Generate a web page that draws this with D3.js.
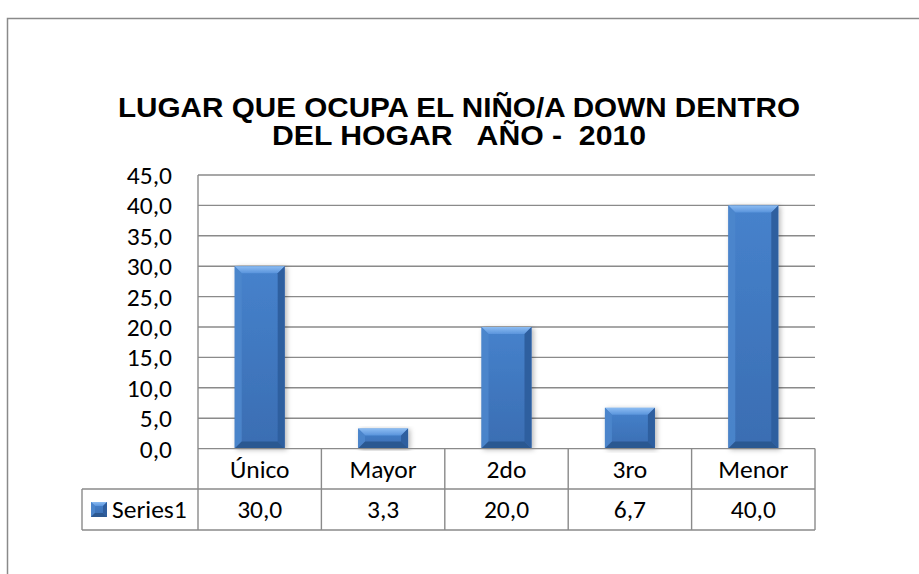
<!DOCTYPE html>
<html>
<head>
<meta charset="utf-8">
<script src="https://cdn.jsdelivr.net/npm/d3@7"></script>
<style>
  html, body { margin: 0; padding: 0; background: #ffffff; }
  svg { display: block; }
</style>
</head>
<body>
<svg id="chart" width="919" height="574"></svg>
<script>
// ---- data ----
const categories = ["Único", "Mayor", "2do", "3ro", "Menor"];
const values = [30.0, 3.3, 20.0, 6.7, 40.0];
const seriesName = "Series1";
const yTicks = [0, 5, 10, 15, 20, 25, 30, 35, 40, 45];
const titleLines = ["LUGAR QUE OCUPA EL NIÑO/A DOWN DENTRO", "DEL HOGAR   AÑO -  2010"];

// ---- layout ----
const plotLeft = 198, plotRight = 815, plotTop = 175, plotBottom = 448.6;
const row1Bottom = 489, row2Bottom = 530, legendLeft = 82;
const gridColor = "#8a8a8a";
const labelFont = "Carlito, Lato, 'Open Sans', sans-serif";
const labelSize = 25.5;

const locale = d3.formatLocale({decimal: ",", thousands: ".", grouping: [3], currency: ["", ""]});
const fmt = locale.format(".1f");

const svg = d3.select("#chart");

const defs = svg.append("defs");
const bodyGrad = defs.append("linearGradient").attr("id", "bodyGrad")
  .attr("x1", 0).attr("y1", 0).attr("x2", 0).attr("y2", 1);
bodyGrad.append("stop").attr("offset", "0%").attr("stop-color", "#4682cc");
bodyGrad.append("stop").attr("offset", "100%").attr("stop-color", "#3a6db2");
const topGrad = defs.append("linearGradient").attr("id", "topGrad")
  .attr("x1", 0).attr("y1", 0).attr("x2", 0).attr("y2", 1);
topGrad.append("stop").attr("offset", "0%").attr("stop-color", "#8cbcf2");
topGrad.append("stop").attr("offset", "100%").attr("stop-color", "#5a94dc");
const shadow = defs.append("filter").attr("id", "shadow")
  .attr("x", "-30%").attr("y", "-10%").attr("width", "160%").attr("height", "120%");
shadow.append("feDropShadow").attr("dx", 2).attr("dy", 1).attr("stdDeviation", 2.5)
  .attr("flood-color", "#000").attr("flood-opacity", 0.28);

// outer frame (extends past right/bottom edges)
svg.append("rect")
  .attr("x", 7.5).attr("y", 18.5).attr("width", 1000).attr("height", 1000)
  .attr("fill", "none").attr("stroke", "#8a8a8a").attr("stroke-width", 1.5);

// title
const titleWidths = [682, 374];
titleLines.forEach((t, i) => {
  svg.append("text")
    .attr("x", 459).attr("y", 117 + i * 28)
    .attr("text-anchor", "middle")
    .attr("font-family", "'Liberation Sans', Arial, sans-serif")
    .attr("font-weight", "bold").attr("font-size", 28)
    .attr("fill", "#000")
    .attr("textLength", titleWidths[i]).attr("lengthAdjust", "spacingAndGlyphs")
    .style("white-space", "pre")
    .text(t);
});

// scales
const x = d3.scaleBand().domain(categories).range([plotLeft, plotRight])
  .paddingInner(0.595).paddingOuter(0.2975);
const xCol = d3.scaleBand().domain(categories).range([plotLeft, plotRight]);
const y = d3.scaleLinear().domain([0, 45]).range([plotBottom, plotTop]);

// gridlines
svg.append("g").selectAll("line").data(yTicks.filter(d => d > 0)).join("line")
  .attr("x1", plotLeft).attr("x2", plotRight)
  .attr("y1", d => y(d)).attr("y2", d => y(d))
  .attr("stroke", gridColor).attr("stroke-width", 1.4);

// y tick labels
svg.append("g").selectAll("text").data(yTicks).join("text")
  .attr("x", 172).attr("y", d => y(d)).attr("dy", "0.35em")
  .attr("text-anchor", "end")
  .attr("font-family", labelFont).attr("font-size", labelSize).attr("fill", "#000")
  .text(d => fmt(d));

// bars with bevel
function bevelBar(g, bx, by, bw, bh, b) {
  b = Math.min(b, bh / 2, bw / 2);
  g.append("rect").attr("x", bx).attr("y", by).attr("width", bw).attr("height", bh)
    .attr("fill", "url(#bodyGrad)");
  const pts = a => a.map(p => p.join(",")).join(" ");
  g.append("polygon").attr("points", pts([[bx, by], [bx + bw, by], [bx + bw - b, by + b], [bx + b, by + b]]))
    .attr("fill", "url(#topGrad)");
  g.append("polygon").attr("points", pts([[bx, by], [bx + b, by + b], [bx + b, by + bh - b], [bx, by + bh]]))
    .attr("fill", "#4d86cc").attr("opacity", 0.9);
  g.append("polygon").attr("points", pts([[bx + bw, by], [bx + bw, by + bh], [bx + bw - b, by + bh - b], [bx + bw - b, by + b]]))
    .attr("fill", "#2f5e9f");
  g.append("polygon").attr("points", pts([[bx, by + bh], [bx + b, by + bh - b], [bx + bw - b, by + bh - b], [bx + bw, by + bh]]))
    .attr("fill", "#2c5891");
}

const bars = svg.append("g");
categories.forEach((c, i) => {
  const g = bars.append("g").attr("filter", "url(#shadow)");
  const bx = x(c), by = y(values[i]), bw = x.bandwidth(), bh = y(0) - y(values[i]);
  bevelBar(g, bx, by, bw, bh, 7);
});

// table grid
const tg = svg.append("g").attr("stroke", gridColor).attr("stroke-width", 1.4).attr("fill", "none");
tg.append("line").attr("x1", plotLeft).attr("x2", plotRight).attr("y1", y(0)).attr("y2", y(0));
tg.append("line").attr("x1", legendLeft).attr("x2", plotRight).attr("y1", row1Bottom).attr("y2", row1Bottom);
tg.append("line").attr("x1", legendLeft).attr("x2", plotRight).attr("y1", row2Bottom).attr("y2", row2Bottom);
tg.append("line").attr("x1", legendLeft).attr("x2", legendLeft).attr("y1", row1Bottom).attr("y2", row2Bottom);
tg.append("line").attr("x1", plotLeft).attr("x2", plotLeft).attr("y1", plotTop).attr("y2", row2Bottom);
categories.forEach(c => {
  const xe = xCol(c) + xCol.bandwidth();
  tg.append("line").attr("x1", xe).attr("x2", xe).attr("y1", y(0)).attr("y2", row2Bottom);
});

// category labels
svg.append("g").selectAll("text").data(categories).join("text")
  .attr("x", d => xCol(d) + xCol.bandwidth() / 2).attr("y", (y(0) + row1Bottom) / 2).attr("dy", "0.35em")
  .attr("text-anchor", "middle")
  .attr("font-family", labelFont).attr("font-size", labelSize).attr("fill", "#000")
  .text(d => d);

// value labels
svg.append("g").selectAll("text").data(values).join("text")
  .attr("x", (d, i) => xCol(categories[i]) + xCol.bandwidth() / 2).attr("y", (row1Bottom + row2Bottom) / 2).attr("dy", "0.35em")
  .attr("text-anchor", "middle")
  .attr("font-family", labelFont).attr("font-size", labelSize).attr("fill", "#000")
  .text(d => fmt(d));

// legend key
const lg = svg.append("g");
bevelBar(lg, 91, 502, 16, 15, 4);
lg.append("text").attr("x", 112).attr("y", (row1Bottom + row2Bottom) / 2).attr("dy", "0.35em")
  .attr("font-family", labelFont).attr("font-size", labelSize).attr("fill", "#000")
  .text(seriesName);
</script>
</body>
</html>
